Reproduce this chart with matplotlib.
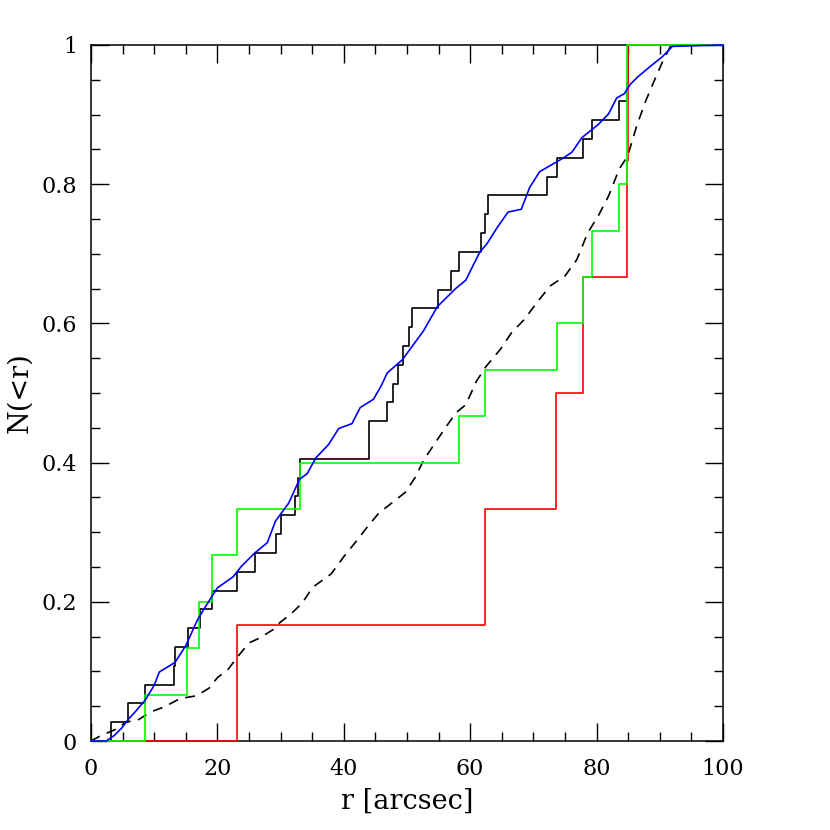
import numpy as np
import matplotlib
matplotlib.use("Agg")
import matplotlib.pyplot as plt
from matplotlib.ticker import MultipleLocator

# Black solid: observed sample radii (N=37)
black_r = [3.1, 5.9, 8.6, 13.2, 13.3, 15.3, 17.2, 19.2, 23.1, 26.0, 29.3, 30.0,
           32.3, 32.8, 33.1, 44.0, 44.0, 46.9, 47.8, 48.6, 49.4, 50.4, 50.8,
           54.95, 57.0, 58.3, 61.7, 62.3, 62.8, 72.1, 73.7, 77.9, 79.3, 83.6,
           84.85, 84.95, 85.0]
# Green: subsample radii (N=15)
green_r = [8.6, 15.2, 17.1, 19.1, 23.05, 33.0, 58.3, 62.3, 73.7, 77.8, 79.3,
           83.6, 84.8, 84.8, 84.8]
# Red: subsample radii (N=6)
red_r = [23.1, 62.3, 73.6, 77.8, 84.8, 85.0]

# Blue curve
blue_x = [0.0, 2.4, 3.7, 4.9, 5.8, 7.0, 8.6, 10.0, 10.8, 13.3, 15.0, 16.8, 17.9,
          20.0, 22.5, 23.8, 25.9, 27.9, 29.2, 31.3, 33.0, 34.2, 35.6, 37.6,
          39.2, 41.3, 42.6, 44.7, 45.9, 46.9, 49.3, 50.5, 52.6, 54.8, 57.7,
          59.3, 61.5, 62.7, 64.3, 66.0, 68.1, 69.4, 71.0, 73.1, 74.8, 76.1,
          77.7, 80.3, 81.9, 83.2, 84.4, 85.3, 86.5, 88.6, 90.4, 92.0, 100.0]
blue_y = [0.0, 0.0, 0.008, 0.019, 0.030, 0.042, 0.059, 0.080, 0.099, 0.113,
          0.137, 0.173, 0.190, 0.220, 0.236, 0.251, 0.270, 0.285, 0.316, 0.342,
          0.376, 0.384, 0.407, 0.426, 0.449, 0.456, 0.479, 0.491, 0.510, 0.529,
          0.548, 0.563, 0.589, 0.624, 0.650, 0.662, 0.702, 0.715, 0.738, 0.760,
          0.764, 0.795, 0.818, 0.829, 0.838, 0.846, 0.867, 0.886, 0.901, 0.924,
          0.930, 0.943, 0.954, 0.970, 0.983, 0.998, 1.0]

# Black dashed curve
dash_x = [0.0, 1.2, 2.4, 4.5, 5.4, 7.4, 9.5, 11.6, 14.1, 16.7, 18.7, 20.0, 21.7,
          23.3, 25.0, 26.7, 28.8, 30.0, 31.7, 33.4, 35.1, 38.0, 40.1, 41.8,
          43.6, 45.5, 47.6, 49.7, 51.4, 52.6, 54.3, 56.0, 57.8, 59.3, 61.0,
          62.5, 64.8, 66.5, 68.5, 71.0, 72.7, 75.0, 76.9, 78.6, 80.3, 81.9,
          83.6, 84.9, 86.4, 87.8, 89.2, 90.4, 91.8, 100.0]
dash_y = [0.0, 0.006, 0.011, 0.019, 0.027, 0.030, 0.042, 0.049, 0.061, 0.065,
          0.076, 0.091, 0.103, 0.122, 0.141, 0.148, 0.160, 0.171, 0.183, 0.198,
          0.221, 0.240, 0.266, 0.285, 0.306, 0.327, 0.342, 0.357, 0.380, 0.403,
          0.426, 0.449, 0.472, 0.483, 0.517, 0.538, 0.563, 0.586, 0.605, 0.635,
          0.654, 0.668, 0.692, 0.730, 0.755, 0.783, 0.822, 0.840, 0.885, 0.920,
          0.950, 0.975, 1.0, 1.0]

x_ticks = [0, 20, 40, 60, 80, 100]
x_tick_labels = ["0", "20", "40", "60", "80", "100"]
y_ticks = [0, 0.2, 0.4, 0.6, 0.8, 1.0]
y_tick_labels = ["0", "0.2", "0.4", "0.6", "0.8", "1"]


def cum_steps(r):
    r = np.sort(np.asarray(r, dtype=float))
    n = len(r)
    xs = np.concatenate([[0.0], r, [100.0]])
    ys = np.concatenate([[0.0], np.arange(1, n + 1) / n, [1.0]])
    return xs, ys


plt.rcParams['font.family'] = ['DejaVu Serif']
fig = plt.figure(figsize=(8.3, 8.3), dpi=100)
ax = fig.add_axes([0.1096, 0.1072, 0.7614, 0.8386])

lw = 1.2
kw = dict(clip_on=False)
xs, ys = cum_steps(black_r)
ax.step(xs, ys, where='post', color='black', lw=lw, zorder=3, **kw)
ax.plot(dash_x, dash_y, color='black', lw=lw, linestyle=(0, (6, 4.5)),
        zorder=3.1, **kw)
xs, ys = cum_steps(red_r)
ax.step(xs, ys, where='post', color='#ff0000', lw=lw, zorder=3.2, **kw)
xs, ys = cum_steps(green_r)
ax.step(xs, ys, where='post', color='#00ff00', lw=lw, zorder=3.3, **kw)
ax.plot(blue_x, blue_y, color='#0000ff', lw=lw, zorder=3.4, **kw)

ax.set_xlim(0, 100)
ax.set_ylim(0, 1)
ax.set_xticks(x_ticks)
ax.set_xticklabels(x_tick_labels)
ax.set_yticks(y_ticks)
ax.set_yticklabels(y_tick_labels)
ax.xaxis.set_minor_locator(MultipleLocator(5))
ax.yaxis.set_minor_locator(MultipleLocator(0.05))
ax.tick_params(which='both', direction='in', top=True, right=True, width=1,
               labelsize=16)
ax.tick_params(which='major', length=13)
ax.tick_params(which='minor', length=6.5)
ax.tick_params(axis='x', pad=12)
ax.tick_params(axis='y', pad=10)
for s in ax.spines.values():
    s.set_linewidth(1.1)

ax.set_xlabel("r [arcsec]", fontsize=19.5, labelpad=6)
ax.set_ylabel("N(<r)", fontsize=19.5, labelpad=6)

fig.savefig("out.png", dpi=100)
